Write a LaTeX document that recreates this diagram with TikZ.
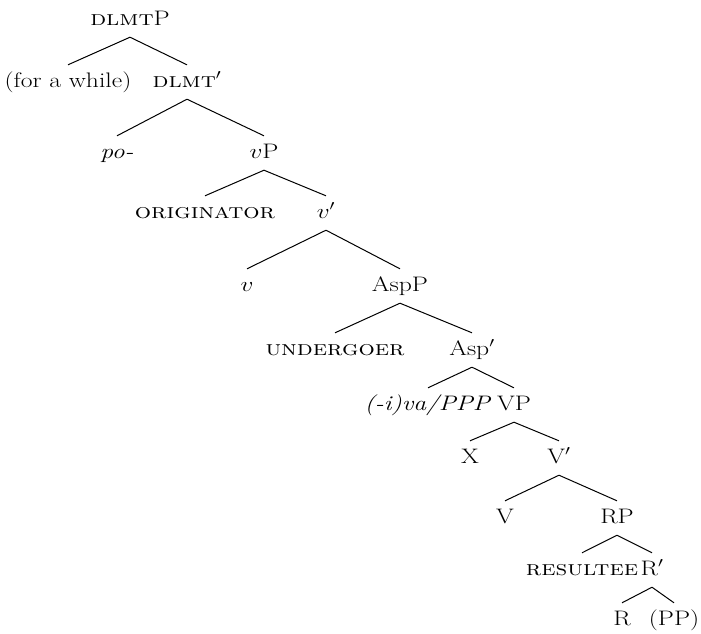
\documentclass[tikz,border=0pt]{standalone}
\usepackage{graphicx}
\newcommand{\sx}[1]{\scalebox{1.22}[1]{#1}}
\begin{document}
\begin{tikzpicture}[x=1pt,y=-1pt,
  lbl/.style={anchor=base, font=\fontsize{21}{25}\selectfont, text height=15pt, text depth=5pt, inner xsep=0pt, inner ysep=7pt},
  br/.style={line width=1pt}]
\useasboundingbox (0,0) rectangle (701,633);
\node[lbl] (dlmtP) at (130,25) {\sx{\textsc{dlmt}P}};
\node[lbl] (fw) at (68,87) {\sx{(for a while)}};
\node[lbl] (dlmtb) at (187,87) {\sx{\textsc{dlmt}$'$}};
\node[lbl] (po) at (117,158) {\sx{\textit{po-}}};
\node[lbl] (vP) at (264,158) {\sx{$v$P}};
\node[lbl] (orig) at (205,218) {\sx{\textsc{originator}}};
\node[lbl] (vb) at (326,218) {\sx{$v'$}};
\node[lbl] (v) at (247,291) {\sx{$v$}};
\node[lbl] (AspP) at (400,291) {\sx{AspP}};
\node[lbl] (und) at (335,355) {\sx{\textsc{undergoer}}};
\node[lbl] (Aspb) at (472,355) {\sx{Asp$'$}};
\node[lbl] (iva) at (428,410) {\sx{\textit{(-i)va/PPP}}};
\node[lbl] (VP) at (514,410) {\sx{VP}};
\node[lbl] (X) at (470,463) {\sx{X}};
\node[lbl] (Vb) at (559,463) {\sx{V$'$}};
\node[lbl] (V) at (505,523) {\sx{V}};
\node[lbl] (RP) at (617,523) {\sx{RP}};
\node[lbl] (res) at (582,575) {\sx{\textsc{resultee}}};
\node[lbl] (Rb) at (652,575) {\sx{R$'$}};
\node[lbl] (R) at (622,625) {\sx{R}};
\node[lbl] (PP) at (674,625) {\sx{(PP)}};
\foreach \p/\c in {dlmtP/fw, dlmtP/dlmtb, dlmtb/po, dlmtb/vP, vP/orig, vP/vb, vb/v, vb/AspP, AspP/und, AspP/Aspb, Aspb/iva, Aspb/VP, VP/X, VP/Vb, Vb/V, Vb/RP, RP/res, RP/Rb, Rb/R, Rb/PP}
  \draw[br] (\p.south) -- (\c.north);
\end{tikzpicture}
\end{document}
